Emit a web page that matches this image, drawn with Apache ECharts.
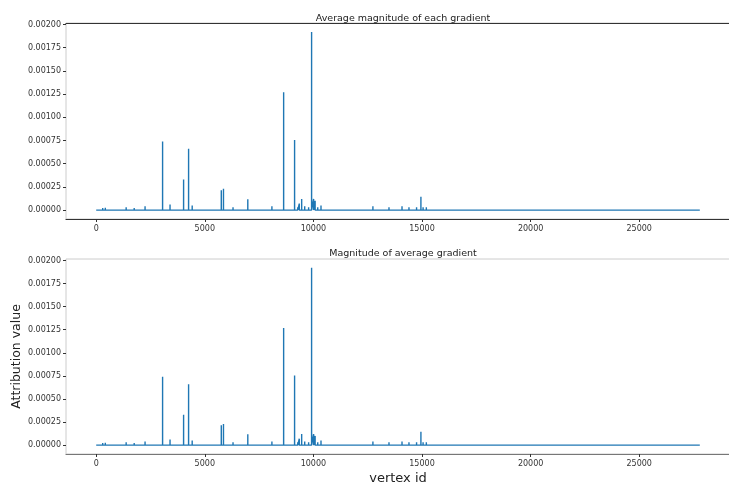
<!DOCTYPE html>
<html>
<head>
<meta charset="utf-8">
<script src="https://cdn.jsdelivr.net/npm/echarts@6/dist/echarts.min.js"></script>
<style>
  html, body { margin: 0; padding: 0; background: #fff; }
  #main { width: 729px; height: 487px; }
</style>
</head>
<body>
<div id="main"></div>
<script>
// spikes (vertex id -> attribution value), baseline is 0
const vertexIds = [
  120, 300, 420, 600, 800, 1000, 1200, 1380, 1550, 1750, 1950, 2250, 2500, 2750,
  3057, 3250, 3400, 3600, 3800, 4024, 4254, 4420, 4600, 5200, 5650, 5760, 5860,
  6000, 6300, 6620, 6980, 7100, 7400, 7650, 7900, 8090, 8250, 8450, 8630, 8800,
  9000, 9134, 9280, 9350, 9460, 9600, 9780, 9917, 10010, 10080, 10200, 10350,
  10500, 10700, 11950, 12200, 12450, 12740, 12900, 13100, 13250, 13480, 13650,
  13800, 14080, 14250, 14400, 14600, 14750, 14950, 15050, 15200, 15400, 15600,
  15800, 16000, 16300, 16550, 16800, 17100, 17450, 24950, 25150, 25400
];
const attribution = [
  0.000015, 0.000022, 0.000025, 0.000018, 0.000015, 0.00002, 0.000018, 0.00003, 0.00002, 0.000022, 0.000015, 0.00004, 0.000012, 0.000015,
  0.00074, 0.00002, 0.00006, 0.000018, 0.000012, 0.00033, 0.00066, 0.00005, 0.000018, 0.000012, 0.00002, 0.000215, 0.00023,
  0.000012, 0.00003, 0.00002, 0.000118, 0.00002, 0.000012, 0.000018, 0.000012, 0.00004, 0.000018, 0.00002, 0.00127, 0.00002,
  0.000012, 0.000755, 0.00003, 0.00007, 0.00012, 0.00004, 0.00003, 0.00192, 0.00012, 0.0001, 0.00003, 0.00005,
  0.00002, 0.000012, 0.000012, 0.000018, 0.000012, 0.00004, 0.000012, 0.00002, 0.00002, 0.00003, 0.000012,
  0.00002, 0.00004, 0.00002, 0.00003, 0.00002, 0.00003, 0.000145, 0.00003, 0.00003, 0.00002, 0.000012,
  0.00002, 0.000018, 0.000012, 0.000018, 0.000012, 0.000012, 0.00001, 0.00002, 0.000018, 0.000012
];
const lastVertex = 27790;
const xTicks = [0, 5000, 10000, 15000, 20000, 25000];
const yTicks = [0, 0.00025, 0.0005, 0.00075, 0.001, 0.00125, 0.0015, 0.00175, 0.002];
const titles = ['Average magnitude of each gradient', 'Magnitude of average gradient'];

function buildLine(ids, vals) {
  const pts = [[0, 0]];
  for (let i = 0; i < ids.length; i++) {
    pts.push([ids[i] - 1, 0], [ids[i], vals[i]], [ids[i] + 1, 0]);
  }
  pts.push([lastVertex, 0]);
  return pts;
}
const lineData = buildLine(vertexIds, attribution);

const font = 'DejaVu Sans';
const tickText = { color: '#333', fontSize: 8, fontFamily: font };

function xAx(gi, dark, withName) {
  return {
    type: 'value', gridIndex: gi, min: -1390, max: 29180,
    axisLine: { show: true, onZero: false, lineStyle: { color: dark, width: 1.2 } },
    axisTick: { show: true, length: 3, customValues: xTicks, lineStyle: { color: '#333' } },
    axisLabel: Object.assign({ customValues: xTicks, margin: 6, formatter: v => String(v) }, tickText),
    splitLine: { show: false },
    name: withName ? 'vertex id' : '',
    nameLocation: 'middle', nameGap: 18, nameMoveOverlap: false,
    nameTextStyle: { fontSize: 13, color: '#222', fontFamily: font }
  };
}
function yAx(gi, withName) {
  return {
    type: 'value', gridIndex: gi, min: -0.000096, max: 0.002016,
    axisLine: { show: false, onZero: false },
    axisTick: { show: true, length: 3, customValues: yTicks, lineStyle: { color: '#333' } },
    axisLabel: Object.assign({ customValues: yTicks, margin: 5, formatter: v => v.toFixed(5) }, tickText),
    splitLine: { show: false },
    name: withName ? 'Attribution value' : '',
    nameLocation: 'middle', nameGap: 43, nameMoveOverlap: false,
    nameTextStyle: { fontSize: 12.5, color: '#222', fontFamily: font }
  };
}

const chart = echarts.init(document.getElementById('main'), null, { renderer: 'canvas' });
chart.setOption({
  animation: false,
  backgroundColor: '#fff',
  title: [
    { text: titles[0], left: 398, top: 9, textAlign: 'center',
      textStyle: { fontSize: 9.5, fontWeight: 'normal', color: '#222', fontFamily: font } },
    { text: titles[1], left: 398, top: 244, textAlign: 'center',
      textStyle: { fontSize: 9.5, fontWeight: 'normal', color: '#222', fontFamily: font } }
  ],
  grid: [
    { left: 66, top: 23, width: 664, height: 196, show: true, borderColor: '#ccc', borderWidth: 1,
      outerBoundsMode: 'none', containLabel: false },
    { left: 66, top: 259, width: 664, height: 195, show: true, borderColor: '#ccc', borderWidth: 1,
      outerBoundsMode: 'none', containLabel: false }
  ],
  xAxis: [
    xAx(0, '#333', false),
    xAx(1, '#777', true),
    // dark top spine of the upper plot
    { type: 'value', gridIndex: 0, position: 'top', min: -1390, max: 29180,
      axisLine: { show: true, onZero: false, lineStyle: { color: '#333', width: 1.2 } },
      axisTick: { show: false }, axisLabel: { show: false }, splitLine: { show: false } }
  ],
  yAxis: [yAx(0, false), yAx(1, true)],
  series: [0, 1].map(i => ({
    type: 'line', xAxisIndex: i, yAxisIndex: i, data: lineData,
    showSymbol: false, sampling: null,
    lineStyle: { color: '#1f77b4', width: 1.4 }
  }))
});
</script>
</body>
</html>
